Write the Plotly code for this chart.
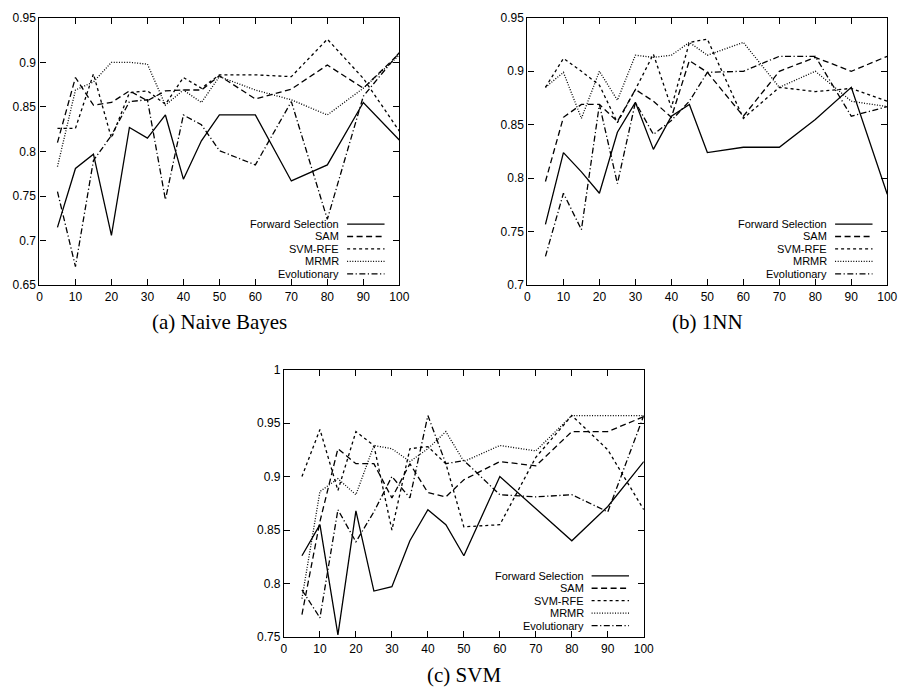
import plotly.graph_objects as go

# ---------------- data ----------------
X = [5, 10, 15, 20, 25, 30, 35, 40, 45, 50, 60, 70, 80, 90, 100]
SERIES = ["Forward Selection", "SAM", "SVM-RFE", "MRMR", "Evolutionary"]

# (a) Naive Bayes
fs_nb   = [0.715, 0.781, 0.797, 0.706, 0.827, 0.815, 0.841, 0.769, 0.812, 0.841, 0.841, 0.767, 0.785, 0.855, 0.813]
sam_nb  = [0.810, 0.883, 0.852, 0.855, 0.868, 0.857, 0.868, 0.869, 0.869, 0.885, 0.859, 0.870, 0.897, 0.871, 0.910]
rfe_nb  = [0.826, 0.826, 0.887, 0.815, 0.866, 0.868, 0.853, 0.883, 0.871, 0.886, 0.886, 0.884, 0.926, 0.882, 0.823]
mrmr_nb = [0.783, 0.869, 0.878, 0.900, 0.900, 0.898, 0.852, 0.869, 0.855, 0.884, 0.869, 0.858, 0.841, 0.871, 0.908]
evo_nb  = [0.755, 0.671, 0.790, 0.818, 0.856, 0.858, 0.746, 0.841, 0.830, 0.801, 0.785, 0.856, 0.724, 0.862, 0.911]

# (b) 1NN
fs_nn   = [0.757, 0.824, 0.806, 0.786, 0.843, 0.871, 0.827, 0.858, 0.869, 0.824, 0.829, 0.829, 0.855, 0.885, 0.785]
sam_nn  = [0.797, 0.857, 0.869, 0.869, 0.853, 0.883, 0.872, 0.857, 0.910, 0.899, 0.858, 0.900, 0.913, 0.900, 0.914]
rfe_nn  = [0.885, 0.912, 0.900, 0.887, 0.852, 0.883, 0.916, 0.866, 0.927, 0.930, 0.856, 0.885, 0.881, 0.884, 0.872]
mrmr_nn = [0.885, 0.899, 0.856, 0.900, 0.873, 0.915, 0.913, 0.915, 0.927, 0.915, 0.927, 0.885, 0.900, 0.872, 0.867]
evo_nn  = [0.727, 0.786, 0.752, 0.869, 0.795, 0.871, 0.841, 0.854, 0.872, 0.899, 0.900, 0.914, 0.914, 0.858, 0.867]

# (c) SVM
fs_svm   = [0.826, 0.855, 0.752, 0.868, 0.793, 0.797, 0.840, 0.869, 0.855, 0.826, 0.900, 0.870, 0.840, 0.872, 0.914]
sam_svm  = [0.771, 0.858, 0.926, 0.912, 0.912, 0.880, 0.912, 0.885, 0.881, 0.897, 0.914, 0.910, 0.942, 0.942, 0.956]
rfe_svm  = [0.900, 0.944, 0.887, 0.942, 0.929, 0.850, 0.926, 0.928, 0.912, 0.853, 0.855, 0.918, 0.957, 0.925, 0.869]
mrmr_svm = [0.786, 0.886, 0.898, 0.883, 0.929, 0.926, 0.914, 0.926, 0.942, 0.914, 0.929, 0.924, 0.957, 0.957, 0.957]
evo_svm  = [0.794, 0.768, 0.869, 0.839, 0.867, 0.900, 0.880, 0.957, 0.912, 0.915, 0.883, 0.881, 0.883, 0.867, 0.957]

X_TICKS = [0, 10, 20, 30, 40, 50, 60, 70, 80, 90, 100]
Y_TICKS_A = [0.65, 0.7, 0.75, 0.8, 0.85, 0.9, 0.95]
Y_TICKS_B = [0.7, 0.75, 0.8, 0.85, 0.9, 0.95]
Y_TICKS_C = [0.75, 0.8, 0.85, 0.9, 0.95, 1]
CAPTIONS = ["(a) Naive Bayes", "(b) 1NN", "(c) SVM"]

# ---------------- styles ----------------
DASHES = ["solid", "6px,3.5px", "3px,3px", "1px,1.6px", "6px,2.5px,1.2px,2.5px"]
W, H = 916, 695

panels = [
    dict(ax="", data=[fs_nb, sam_nb, rfe_nb, mrmr_nb, evo_nb], yt=Y_TICKS_A,
         px=(37, 402), py=(11, 284), cap=CAPTIONS[0], capy=321),
    dict(ax="2", data=[fs_nn, sam_nn, rfe_nn, mrmr_nn, evo_nn], yt=Y_TICKS_B,
         px=(532, 897), py=(11, 284), cap=CAPTIONS[1], capy=321),
    dict(ax="3", data=[fs_svm, sam_svm, rfe_svm, mrmr_svm, evo_svm], yt=Y_TICKS_C,
         px=(285, 650), py=(370, 643), cap=CAPTIONS[2], capy=682),
]

fig = go.Figure()
tickfont = dict(family="Liberation Sans, Arial, sans-serif", size=12, color="black")
legfont = dict(family="Liberation Sans, Arial, sans-serif", size=11, color="black")
shapes, annotations = [], []

for p in panels:
    a = p["ax"]
    for name, vals, dash in zip(SERIES, p["data"], DASHES):
        fig.add_trace(go.Scatter(
            x=X, y=vals, mode="lines", name=name, showlegend=False,
            line=dict(color="black", width=1.3, dash=dash),
            xaxis="x" + a, yaxis="y" + a))
    common = dict(showline=True, linecolor="black", linewidth=1.2, mirror="ticks",
                  ticks="inside", ticklen=6, tickwidth=1, tickcolor="black",
                  showgrid=False, zeroline=False, tickfont=tickfont)
    xd = [p["px"][0] / W, p["px"][1] / W]
    yd = [1 - p["py"][1] / H, 1 - p["py"][0] / H]
    fig.layout["xaxis" + a] = dict(domain=xd, range=[0, 100], tickvals=X_TICKS,
                                   ticktext=[str(v) for v in X_TICKS],
                                   anchor="y" + a, **common)
    fig.layout["yaxis" + a] = dict(domain=yd, range=[p["yt"][0], p["yt"][-1]],
                                   tickvals=p["yt"], ticktext=[f"{v:g}" for v in p["yt"]],
                                   anchor="x" + a, **common)
    # legend (gnuplot style: text right-aligned, sample on the right)
    xr, yr = "x" + a + " domain", "y" + a + " domain"
    plot_h = p["py"][1] - p["py"][0]
    row_px = [210.5 - 0.0, 223.2, 235.9, 248.6, 261.3]  # px below panel top
    for name, dash, rp in zip(SERIES, DASHES, row_px):
        yy = 1 - rp / plot_h
        annotations.append(dict(text=name, x=0.836, y=yy, xref=xr, yref=yr,
                                xanchor="right", yanchor="middle", showarrow=False,
                                borderpad=0, font=legfont))
        shapes.append(dict(type="line", xref=xr, yref=yr, x0=0.855, x1=0.959,
                           y0=yy, y1=yy, line=dict(color="black", width=1.3, dash=dash)))
    annotations.append(dict(text=p["cap"], x=(p["px"][0] + p["px"][1]) / 2 / W,
                            y=1 - p["capy"] / H, xref="paper", yref="paper",
                            xanchor="center", yanchor="middle", showarrow=False,
                            font=dict(family="Liberation Serif, Times New Roman, serif",
                                      size=21, color="black")))

fig.update_layout(width=W, height=H, autosize=False,
                  margin=dict(l=0, r=0, t=0, b=0),
                  paper_bgcolor="white", plot_bgcolor="white",
                  shapes=shapes, annotations=annotations, showlegend=False)

fig.write_html("out.html")
